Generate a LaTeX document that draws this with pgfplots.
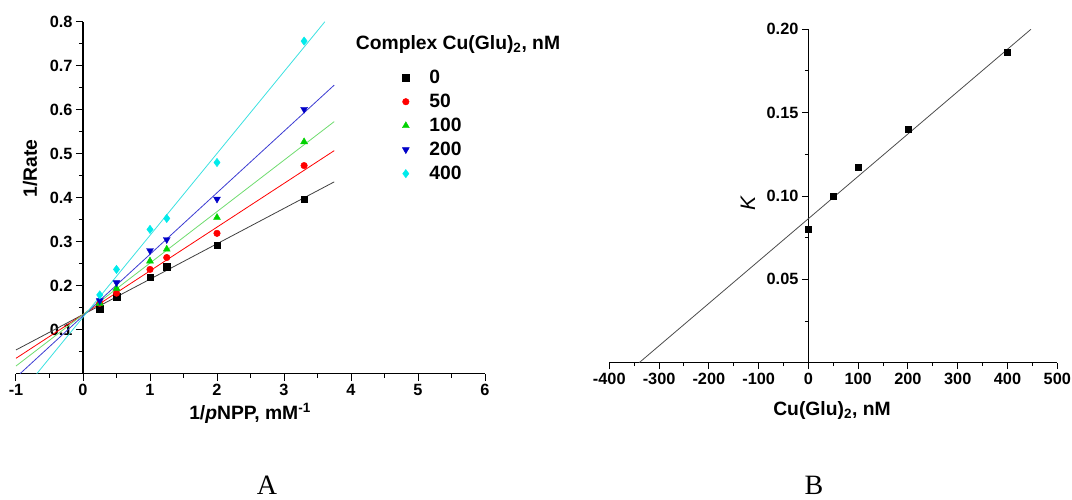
\documentclass[border=0pt]{standalone}
\usepackage{fontspec}
\setmainfont{Liberation Sans}
\newfontfamily\serifA{Liberation Serif}
\usepackage{pgfplots}
\pgfplotsset{compat=1.18}
\definecolor{mred}{RGB}{255,0,0}
\definecolor{mgreen}{RGB}{0,210,0}
\definecolor{lgreen}{RGB}{110,220,110}
\definecolor{mblue}{RGB}{0,0,200}
\definecolor{lblue}{RGB}{60,60,210}
\definecolor{mcyan}{RGB}{0,235,235}
\definecolor{lcyan}{RGB}{60,225,225}
\newcommand{\tickfont}{\fontsize{16.3}{19}\selectfont\bfseries}
\newcommand{\labfont}{\fontsize{19.3}{22}\selectfont\bfseries}
\begin{document}
\begin{tikzpicture}
\path[use as bounding box] (0,0) rectangle (1072pt,499pt);
% ---------------- Panel A ----------------
\begin{axis}[
  at={(16pt,125.3pt)}, anchor=south west,
  scale only axis, width=469pt, height=352pt,
  xmin=-1, xmax=6, ymin=0, ymax=0.8,
  clip=false,
  axis x line=bottom, axis y line=center,
  axis line style={-, line width=1.3pt},
  hide obscured x ticks=false, hide obscured y ticks=false,
  tick align=outside,
  major tick length=7pt, minor tick length=4pt,
  every tick/.style={black, line width=1pt},
  xtick={-1,0,1,2,3,4,5,6},
  minor xtick={-0.5,0.5,1.5,2.5,3.5,4.5,5.5},
  ytick={0.1,0.2,0.3,0.4,0.5,0.6,0.7,0.8},
  minor ytick={0.05,0.15,0.25,0.35,0.45,0.55,0.65,0.75},
  /pgf/number format/assume math mode=true,
  tick label style={font=\tickfont},
  yticklabel style={/pgf/number format/fixed, /pgf/number format/precision=1},
  xlabel={1/\textit{p}NPP, mM\textsuperscript{-1}},
  ylabel={1/Rate},
  every axis x label/.style={at={(rel axis cs:0.499,-0.1315)}, anchor=base, font=\labfont},
  every axis y label/.style={at={(rel axis cs:0.03,0.583)}, anchor=center, rotate=90, font=\labfont},
  legend cell align=left,
  legend style={draw=none, fill=none, at={(rel axis cs:0.817,0.874)}, anchor=north west,
    font=\labfont, row sep=5pt,
    /tikz/every odd column/.append style={column sep=18pt}},
]
% fitted lines
\addplot[forget plot, black!75, line width=0.8pt] coordinates {(-1,0.054) (3.75,0.436)};
\addplot[forget plot, mred, line width=0.8pt] coordinates {(-1,0.035) (3.75,0.507)};
\addplot[forget plot, lgreen, line width=0.8pt] coordinates {(-1,0.0175) (3.75,0.573)};
\addplot[forget plot, lblue, line width=0.8pt] coordinates {(-0.94,0) (3.75,0.656)};
\addplot[forget plot, lcyan, line width=0.8pt] coordinates {(-0.69,0) (3.61,0.8)};
% data
\addplot[only marks, mark=square*, mark size=3.2pt, black] coordinates
  {(0.25,0.148) (0.5,0.175) (1,0.219) (1.25,0.243) (2,0.292) (3.3,0.397)};
\addlegendentry{0}
\addplot[only marks, mark=*, mark size=3.3pt, mred] coordinates
  {(0.25,0.160) (0.5,0.183) (1,0.237) (1.25,0.264) (2,0.319) (3.3,0.473)};
\addlegendentry{50}
\addplot[only marks, mark=triangle*, mark size=4pt, mgreen] coordinates
  {(0.25,0.160) (0.5,0.194) (1,0.256) (1.25,0.283) (2,0.355) (3.3,0.527)};
\addlegendentry{100}
\addplot[only marks, mark=triangle*, mark size=4pt, mark options={rotate=180}, mblue] coordinates
  {(0.25,0.166) (0.5,0.207) (1,0.280) (1.25,0.305) (2,0.397) (3.3,0.601)};
\addlegendentry{200}
\addplot[only marks, mark=diamond*, mark size=4.2pt, mcyan] coordinates
  {(0.25,0.179) (0.5,0.237) (1,0.328) (1.25,0.353) (2,0.480) (3.3,0.756)};
\addlegendentry{400}
\node[font=\labfont, anchor=base] at (rel axis cs:0.9424,0.92) {Complex Cu(Glu)\textsubscript{2}, nM};
\end{axis}
% ---------------- Panel B ----------------
\begin{axis}[
  at={(609.3pt,136.3pt)}, anchor=south west,
  scale only axis, width=448pt, height=333.4pt,
  xmin=-400, xmax=500, ymin=0, ymax=0.2,
  axis x line=bottom, axis y line=center,
  axis line style={-, line width=1.3pt},
  hide obscured x ticks=false, hide obscured y ticks=false,
  tick align=outside,
  major tick length=6.5pt, minor tick length=3.5pt,
  every tick/.style={black, line width=1pt},
  xtick={-400,-300,-200,-100,0,100,200,300,400,500},
  minor xtick={-350,-250,-150,-50,50,150,250,350,450},
  ytick={0.05,0.1,0.15,0.2},
  minor ytick={0.025,0.075,0.125,0.175},
  /pgf/number format/assume math mode=true,
  tick label style={font=\tickfont},
  yticklabel style={/pgf/number format/fixed, /pgf/number format/fixed zerofill, /pgf/number format/precision=2},
  xlabel={Cu(Glu)\textsubscript{2}, nM},
  ylabel={\textit{K}},
  every axis x label/.style={at={(rel axis cs:0.497,-0.157)}, anchor=base, font=\labfont},
  every axis y label/.style={at={(rel axis cs:0.3096,0.479)}, anchor=center, rotate=90, font=\fontsize{21}{24}\selectfont\mdseries},
]
\addplot[black!70, line width=0.8pt] coordinates {(-340,0) (447,0.2)};
\addplot[only marks, mark=square*, mark size=3pt, black] coordinates
  {(0,0.080) (50,0.100) (100,0.117) (200,0.140) (400,0.186)};
\end{axis}
\node[font=\serifA\fontsize{28}{30}\selectfont, anchor=base] at (267pt,5pt) {A};
\node[font=\serifA\fontsize{28}{30}\selectfont, anchor=base] at (814pt,5pt) {B};
\end{tikzpicture}
\end{document}
